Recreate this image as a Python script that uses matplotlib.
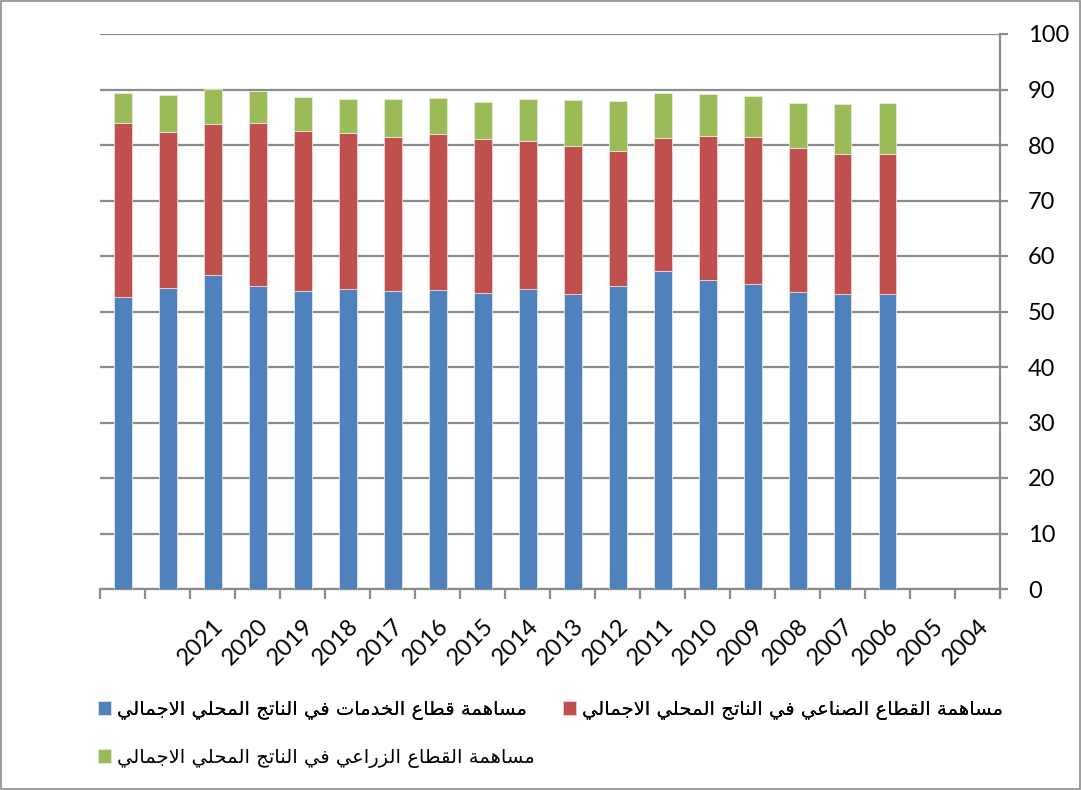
import numpy as np
import matplotlib
matplotlib.use('Agg')
import matplotlib.pyplot as plt
from matplotlib.patches import Rectangle

years = ['', '', '2021', '2020', '2019', '2018', '2017', '2016', '2015', '2014',
         '2013', '2012', '2011', '2010', '2009', '2008', '2007', '2006', '2005', '2004']
services = [52.7, 54.3, 56.5, 54.6, 53.7, 54.1, 53.7, 53.9, 53.4, 54.1,
            53.1, 54.6, 57.3, 55.7, 55.0, 53.5, 53.1, 53.2, np.nan, np.nan]
industry = [31.2, 28.0, 27.2, 29.4, 28.9, 28.0, 27.7, 28.0, 27.6, 26.6,
            26.8, 24.4, 24.0, 26.0, 26.4, 26.0, 25.2, 25.1, np.nan, np.nan]
agriculture = [5.5, 6.7, 6.3, 5.7, 6.0, 6.1, 6.8, 6.6, 6.7, 7.6,
               8.2, 9.0, 8.0, 7.4, 7.5, 8.0, 9.1, 9.2, np.nan, np.nan]

label_services = 'مساهمة قطاع الخدمات في الناتج المحلي الاجمالي'
label_industry = 'مساهمة القطاع الصناعي في الناتج المحلي الاجمالي'
label_agri = 'مساهمة القطاع الزراعي في الناتج المحلي الاجمالي'

# arabic presentation forms: isolated, final, initial, medial
FORMS = {
    'ا': (0xFE8D, 0xFE8E, None, None),
    'ة': (0xFE93, 0xFE94, None, None),
    'ت': (0xFE95, 0xFE96, 0xFE97, 0xFE98),
    'ج': (0xFE9D, 0xFE9E, 0xFE9F, 0xFEA0),
    'ح': (0xFEA1, 0xFEA2, 0xFEA3, 0xFEA4),
    'خ': (0xFEA5, 0xFEA6, 0xFEA7, 0xFEA8),
    'د': (0xFEA9, 0xFEAA, None, None),
    'ر': (0xFEAD, 0xFEAE, None, None),
    'ز': (0xFEAF, 0xFEB0, None, None),
    'س': (0xFEB1, 0xFEB2, 0xFEB3, 0xFEB4),
    'ص': (0xFEB9, 0xFEBA, 0xFEBB, 0xFEBC),
    'ط': (0xFEC1, 0xFEC2, 0xFEC3, 0xFEC4),
    'ع': (0xFEC9, 0xFECA, 0xFECB, 0xFECC),
    'ف': (0xFED1, 0xFED2, 0xFED3, 0xFED4),
    'ق': (0xFED5, 0xFED6, 0xFED7, 0xFED8),
    'ل': (0xFEDD, 0xFEDE, 0xFEDF, 0xFEE0),
    'م': (0xFEE1, 0xFEE2, 0xFEE3, 0xFEE4),
    'ن': (0xFEE5, 0xFEE6, 0xFEE7, 0xFEE8),
    'ه': (0xFEE9, 0xFEEA, 0xFEEB, 0xFEEC),
    'ي': (0xFEF1, 0xFEF2, 0xFEF3, 0xFEF4),
}


def joins_left(c):
    return c in FORMS and FORMS[c][2] is not None


def shape(text):
    out = []
    i = 0
    while i < len(text):
        c = text[i]
        if c not in FORMS:
            out.append(c)
            i += 1
            continue
        prev_join = i > 0 and joins_left(text[i - 1])
        if c == 'ل' and i + 1 < len(text) and text[i + 1] == 'ا':
            out.append(chr(0xFEFC if prev_join else 0xFEFB))
            i += 2
            continue
        next_join = joins_left(c) and i + 1 < len(text) and text[i + 1] in FORMS
        iso, fin, ini, med = FORMS[c]
        if prev_join and next_join:
            g = med
        elif prev_join:
            g = fin
        elif next_join:
            g = ini
        else:
            g = iso
        out.append(chr(g))
        i += 1
    return ''.join(reversed(out))


plt.rcParams['font.family'] = ['Lato', 'DejaVu Sans']

fig = plt.figure(figsize=(10.81, 7.90), dpi=100)
ax = fig.add_axes([100 / 1081, 1 - 589 / 790, 900 / 1081, 555 / 790])

x = np.arange(len(years))
blue, red, green = '#4F81BD', '#C0504D', '#9BBB59'
s = np.array(services)
ind = np.array(industry)
ag = np.array(agriculture)
b1 = ax.bar(x, s, width=0.4, color=blue, edgecolor='#dfe7f1', linewidth=0.6, zorder=3)
b2 = ax.bar(x, ind, bottom=s, width=0.4, color=red, edgecolor='#f0d6d5', linewidth=0.6, zorder=3)
b3 = ax.bar(x, ag, bottom=s + ind, width=0.4, color=green, edgecolor='#e3edd2', linewidth=0.6, zorder=3)

ax.set_xlim(-0.5, len(years) - 0.5)
ax.set_ylim(0, 100)
ax.set_yticks(np.arange(0, 101, 10))
ax.yaxis.tick_right()
ax.yaxis.grid(True, color='#8c8c8c', linewidth=1.6, zorder=0)
ax.set_axisbelow(True)

for side in ['left', 'top']:
    ax.spines[side].set_visible(False)
ax.spines['right'].set_color('#8c8c8c')
ax.spines['right'].set_linewidth(1.6)
ax.spines['bottom'].set_color('#8c8c8c')
ax.spines['bottom'].set_linewidth(1.6)

ax.tick_params(axis='y', length=6, width=1.6, color='#8c8c8c', labelsize=17, pad=14)
ax.set_xticks(np.arange(len(years) + 1) - 0.5)
ax.set_xticklabels([])
ax.tick_params(axis='x', which='major', length=7, width=1.6, color='#8c8c8c')
ax.set_xticks(x, minor=True)
ax.set_xticklabels(years, minor=True, rotation=45, ha='right', rotation_mode='anchor', fontsize=17)
ax.tick_params(axis='x', which='minor', length=0, pad=19)

leg_kw = dict(loc='upper left', frameon=False, prop={'family': 'DejaVu Sans', 'size': 14},
              handlelength=0.7, handleheight=0.7, handletextpad=0.3)
leg1 = fig.legend([b1, b2], [shape(label_services), shape(label_industry)], ncol=2,
                  bbox_to_anchor=(80 / 1081, 1 - 682 / 790), columnspacing=1.85, **leg_kw)
leg2 = fig.legend([b3], [shape(label_agri)],
                  bbox_to_anchor=(80 / 1081, 1 - 730 / 790), **leg_kw)
fig.add_artist(leg1)

fig.patches.append(Rectangle((0.001, 0.001), 0.998, 0.998, transform=fig.transFigure,
                             fill=False, edgecolor='#8c8c8c', linewidth=1.2))

fig.savefig('out.png', dpi=100)
